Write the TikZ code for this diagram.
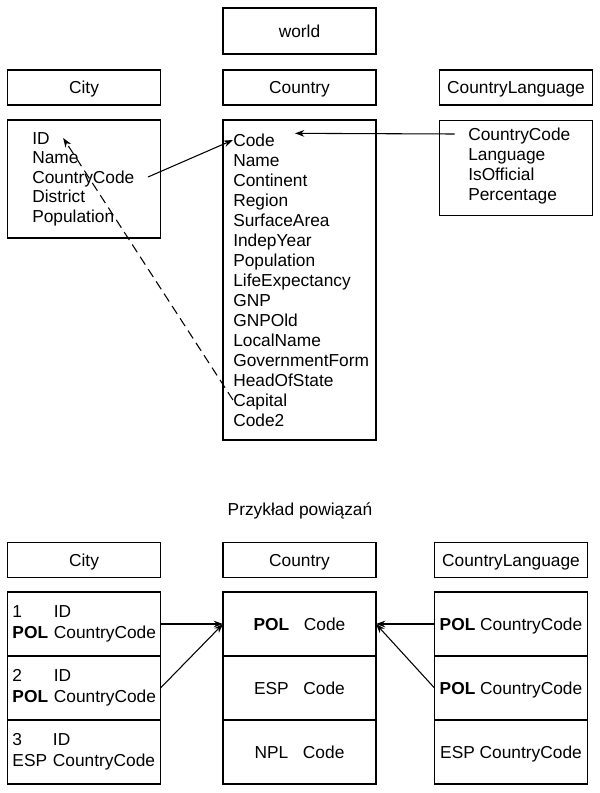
\documentclass[tikz,border=0pt]{standalone}
\usepackage{fontspec}
\setmainfont{Liberation Sans}
\usetikzlibrary{arrows.meta}
\usetikzlibrary{positioning}

\begin{document}
\begin{tikzpicture}[x=0.75pt,y=-0.75pt,font=\fontsize{13pt}{15.6pt}\selectfont,
        box/.style={draw,line width=0.8pt,inner sep=0pt,outer sep=0pt,minimum width=114.75pt},
        hdr/.style={box,minimum height=26.25pt,text height=9.3pt,text depth=0pt},
        rowbox/.style={box,minimum height=48pt,text height=9.3pt,text depth=0pt},
        cityrow/.style={box,minimum height=48pt,align=left,text width=107.25pt,inner xsep=3.75pt},
        field/.style={anchor=base west,inner sep=0pt,text height=9pt,text depth=0pt},
        arr/.style={line width=0.8pt,-{Stealth[length=7pt,width=5pt]}}]
        \useasboundingbox (0,0) rectangle (600,793);

        \node[box,minimum height=34.5pt,text height=9.3pt,text depth=0pt] (world) at (299.5,31) {world};
        \node[hdr] (cityHdr) at (84,87.5) {City};
        \node[hdr] (countryHdr) at (299.5,87.5) {Country};
        \node[hdr] (langHdr) at (516,87.5) {CountryLanguage};

        \node[box,minimum height=88.5pt] (city) at (84,179) {};
        \node[box,minimum height=240pt] (country) at (299.5,280) {};
        \node[box,minimum height=71.8pt] (lang) at (516,168) {};

        \node[field] (cityId) at (32,144) {ID};
        \node[field] (cityName) at (32,163.5) {Name};
        \node[field] (cityCC) at (32,183) {CountryCode};
        \node[field] (cityDistrict) at (32,202.5) {District};
        \node[field] (cityPop) at (32,222) {Population};

        \node[field] (ctCode) at (233,146) {Code};
        \node[field] (ctName) at (233,166) {Name};
        \node[field] (ctContinent) at (233,186) {Continent};
        \node[field] (ctRegion) at (233,206) {Region};
        \node[field] (ctSurface) at (233,226) {SurfaceArea};
        \node[field] (ctIndep) at (233,246) {IndepYear};
        \node[field] (ctPop) at (233,266) {Population};
        \node[field] (ctLife) at (233,286) {LifeExpectancy};
        \node[field] (ctGnp) at (233,306) {GNP};
        \node[field] (ctGnpOld) at (233,326) {GNPOld};
        \node[field] (ctLocal) at (233,346) {LocalName};
        \node[field] (ctGov) at (233,366) {GovernmentForm};
        \node[field] (ctHead) at (233,386) {HeadOfState};
        \node[field] (ctCapital) at (233,406) {Capital};
        \node[field] (ctCode2) at (233,426) {Code2};

        \node[field] (lgCC) at (468,140) {CountryCode};
        \node[field] (lgLanguage) at (468,160) {Language};
        \node[field] (lgOfficial) at (468,180) {IsOfficial};
        \node[field] (lgPercent) at (468,200) {Percentage};

        \draw[arr] ([xshift=10pt]cityCC.east) -- (ctCode.west);
        \draw[arr] ([xshift=-10pt]lgCC.west) -- ([xshift=15pt,yshift=5pt]ctCode.east);
        \draw[arr,dash pattern=on 7pt off 4pt] (ctCapital.west) -- ([xshift=10pt]cityId.east);

        \node (title) at (300,511) {Przykład powiązań};

        \node[hdr] (cityHdr2) at (84,560) {City};
        \node[hdr] (countryHdr2) at (299.5,560) {Country};
        \node[hdr] (langHdr2) at (511,560) {CountryLanguage};

        \node[cityrow] (c1) at (84,624) {\begin{tabular}{@{}l@{\ }l@{}}1&ID\\\textbf{POL}&CountryCode\end{tabular}};
        \node[cityrow,below=0pt of c1] (c2) {\begin{tabular}{@{}l@{\ }l@{}}2&ID\\\textbf{POL}&CountryCode\end{tabular}};
        \node[cityrow,below=0pt of c2] (c3) {\begin{tabular}{@{}l@{\ }l@{}}3&ID\\ESP&CountryCode\end{tabular}};

        \node[rowbox] (k1) at (299.5,624) {\textbf{POL}\hspace{11pt}Code};
        \node[rowbox,below=0pt of k1] (k2) {ESP\hspace{11pt}Code};
        \node[rowbox,below=0pt of k2] (k3) {NPL\hspace{11pt}Code};

        \node[rowbox] (l1) at (511,624) {\textbf{POL} CountryCode};
        \node[rowbox,below=0pt of l1] (l2) {\textbf{POL} CountryCode};
        \node[rowbox,below=0pt of l2] (l3) {ESP CountryCode};

        \draw[arr] (c1.east) -- (k1.west);
        \draw[arr] (c2.east) -- (k1.west);
        \draw[arr] (l1.west) -- (k1.east);
        \draw[arr] (l2.west) -- (k1.east);
      \end{tikzpicture}
\end{document}
